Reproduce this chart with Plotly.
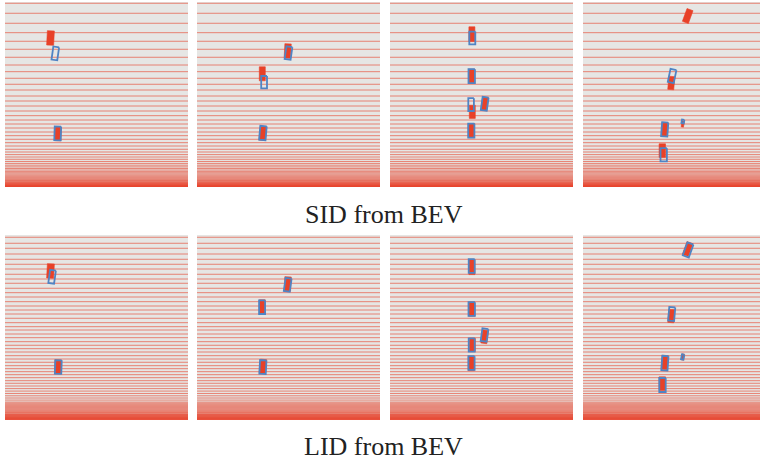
import math
import plotly.graph_objects as go

W, H = 760, 461

# Depth-bin edges (metres from the near edge)
sid_edges = [45.93, 43.43, 40.93, 38.58, 36.43, 34.43, 32.43, 30.5, 28.83, 27.18,
             25.68, 24.25, 22.75, 21.5, 20.25, 19.0, 17.83, 16.75, 15.75, 14.75,
             13.75, 12.83, 11.93, 11.08, 10.25, 9.43, 8.75, 8.1, 7.5, 6.93,
             6.38, 5.9, 5.45, 5.03, 4.63, 4.25, 3.9, 3.57, 3.26, 2.97,
             2.7, 2.45, 2.22, 2.0, 1.8, 1.61, 1.44, 1.28, 1.13, 1.0,
             0.88, 0.77, 0.67, 0.58, 0.5, 0.42, 0.35, 0.28, 0.22, 0.16,
             0.11, 0.06, 0.02]
lid_edges = [45.68, 44.18, 42.93, 41.5, 40.18, 38.93, 37.75, 36.43, 35.25, 34.18,
             32.93, 31.83, 30.75, 29.58, 28.5, 27.5, 26.5, 25.43, 24.33, 23.33,
             22.5, 21.5, 20.58, 19.58, 18.68, 17.83, 17.0, 16.08, 15.25, 14.43,
             13.58, 12.83, 12.08, 11.33, 10.58, 9.83, 9.18, 8.5, 7.85, 7.23,
             6.63, 6.05, 5.5, 4.98, 4.48, 4.2, 3.93, 3.67, 3.42, 3.18,
             2.95, 2.72, 2.5, 2.29, 2.08, 1.88, 1.69, 1.5, 1.38, 1.26,
             1.14, 1.03, 0.92, 0.82, 0.72, 0.62, 0.53, 0.44, 0.36, 0.28,
             0.2, 0.13, 0.06]

# Boxes: [x (m), z (m), width (m), length (m), yaw (deg)]
scene1_gt = [[-11.5, 37.25, 1.75, 3.6, 3], [-9.65, 13.3, 1.6, 3.5, 2]]
scene1_sid = [[-10.3, 33.4, 1.45, 3.3, 8], [-9.7, 13.4, 1.6, 3.4, 2]]
scene1_lid = [[-11.1, 35.8, 1.45, 3.3, 8], [-9.55, 13.25, 1.6, 3.4, 2]]

scene2_gt = [[-0.2, 34.0, 1.6, 3.6, 3], [-6.55, 28.3, 1.5, 3.5, 0], [-6.4, 13.4, 1.6, 3.5, 5]]
scene2_sid = [[0.0, 33.5, 1.5, 3.2, 8], [-6.1, 26.2, 1.45, 3.1, 0], [-6.4, 13.5, 1.6, 3.5, 5]]
scene2_lid = [[-0.2, 33.8, 1.5, 3.3, 8], [-6.6, 28.2, 1.5, 3.4, 0], [-6.4, 13.25, 1.6, 3.4, 3]]

scene3_gt = [[-2.4, 38.2, 1.5, 3.7, 0], [-2.45, 27.7, 1.6, 3.5, 0], [-2.3, 18.8, 1.5, 3.3, 0],
             [0.8, 20.8, 1.5, 3.3, 8], [-2.55, 14.1, 1.55, 3.5, 0]]
scene3_sid = [[-2.3, 37.25, 1.5, 3.2, 0], [-2.45, 27.7, 1.6, 3.5, 0], [-2.6, 20.6, 1.4, 3.2, 0],
              [0.8, 20.8, 1.5, 3.3, 8], [-2.55, 14.1, 1.55, 3.5, 0]]
scene3_lid = [[-2.45, 38.5, 1.5, 3.4, 0], [-2.45, 27.75, 1.6, 3.4, 0], [-2.45, 18.75, 1.5, 3.3, 0],
              [0.75, 21.25, 1.5, 3.2, 8], [-2.5, 14.25, 1.55, 3.4, 0]]

scene4_gt = [[3.3, 42.75, 1.6, 3.4, 20], [-0.8, 26.0, 1.5, 3.3, 5], [2.07, 15.75, 0.6, 1.5, 10],
             [-2.45, 14.4, 1.55, 3.5, 4], [-3.05, 9.1, 1.6, 3.4, 0]]
scene4_sid = [[-0.6, 27.75, 1.5, 3.3, 12], [2.1, 16.4, 0.6, 0.9, 10],
              [-2.45, 14.4, 1.55, 3.5, 4], [-2.7, 8.05, 1.6, 3.3, 0]]
scene4_lid = [[3.4, 42.5, 1.6, 3.4, 20], [-0.7, 26.5, 1.5, 3.4, 5], [2.05, 15.75, 0.6, 1.3, 10],
              [-2.4, 14.2, 1.55, 3.6, 4], [-3.0, 8.75, 1.6, 3.5, 0]]

row_titles = ["SID from BEV", "LID from BEV"]

gt_boxes = [scene1_gt, scene2_gt, scene3_gt, scene4_gt]
pred_boxes = [[scene1_sid, scene2_sid, scene3_sid, scene4_sid],
              [scene1_lid, scene2_lid, scene3_lid, scene4_lid]]
edges_by_row = [sid_edges, lid_edges]

# ---- layout geometry ----
col_px = [(5, 188), (197, 380), (390, 573), (583, 760)]
row_px = [(2, 187), (235, 420)]
PX_PER_M = 4.0
X_MIN = -22.875
Z_MAX = 46.25

RED = "#e84128"
BLUE = "#4f84c4"
LINE_RGBA = "rgba(232,64,40,0.6)"


def box_path(boxes):
    xs, ys = [], []
    for cx, cz, w, l, yaw in boxes:
        t = math.radians(yaw)
        hx, hy = math.sin(t), math.cos(t)
        wx, wy = math.cos(t), -math.sin(t)
        corners = [(+1, +1), (+1, -1), (-1, -1), (-1, +1), (+1, +1)]
        for a, b in corners:
            xs.append(cx + a * l / 2 * hx + b * w / 2 * wx)
            ys.append(cz + a * l / 2 * hy + b * w / 2 * wy)
        xs.append(None)
        ys.append(None)
    return xs, ys


fig = go.Figure()
layout = {}
shapes = []
k = 0
for r in range(2):
    for c in range(4):
        k += 1
        xa = "x" if k == 1 else f"x{k}"
        ya = "y" if k == 1 else f"y{k}"
        x0, x1 = col_px[c]
        t0, t1 = row_px[r]
        layout["xaxis" if k == 1 else f"xaxis{k}"] = dict(
            domain=[x0 / W, x1 / W], range=[X_MIN, X_MIN + (x1 - x0) / PX_PER_M],
            visible=False, fixedrange=True, anchor=ya)
        layout["yaxis" if k == 1 else f"yaxis{k}"] = dict(
            domain=[1 - t1 / H, 1 - t0 / H], range=[0, Z_MAX],
            visible=False, fixedrange=True, anchor=xa)
        for d in edges_by_row[r]:
            shapes.append(dict(type="line", xref=f"{xa} domain", yref=ya,
                               x0=0, x1=1, y0=d, y1=d, layer="below",
                               line=dict(color=LINE_RGBA, width=1)))
        gx, gy = box_path(gt_boxes[c])
        fig.add_trace(go.Scatter(x=gx, y=gy, xaxis=xa, yaxis=ya, mode="lines",
                                 fill="toself", fillcolor=RED,
                                 line=dict(color=RED, width=0.6),
                                 hoverinfo="skip", showlegend=False))
        px_, py_ = box_path(pred_boxes[r][c])
        fig.add_trace(go.Scatter(x=px_, y=py_, xaxis=xa, yaxis=ya, mode="lines",
                                 line=dict(color=BLUE, width=1.8),
                                 hoverinfo="skip", showlegend=False))

annotations = [
    dict(text=row_titles[0], x=383.5 / W, y=1 - 214 / H, xref="paper", yref="paper",
         showarrow=False, xanchor="center", yanchor="middle",
         font=dict(family="Liberation Serif", size=26, color="#222222")),
    dict(text=row_titles[1], x=383.5 / W, y=1 - 446 / H, xref="paper", yref="paper",
         showarrow=False, xanchor="center", yanchor="middle",
         font=dict(family="Liberation Serif", size=26, color="#222222")),
]

fig.update_layout(**layout)
fig.update_layout(width=W, height=H, margin=dict(l=0, r=0, t=0, b=0),
                  paper_bgcolor="white", plot_bgcolor="#e6e6e4",
                  shapes=shapes, annotations=annotations, showlegend=False)
fig.write_html("out.html", config={"displayModeBar": False},
               post_script="document.body.style.margin='0';document.body.style.overflow='hidden';")
